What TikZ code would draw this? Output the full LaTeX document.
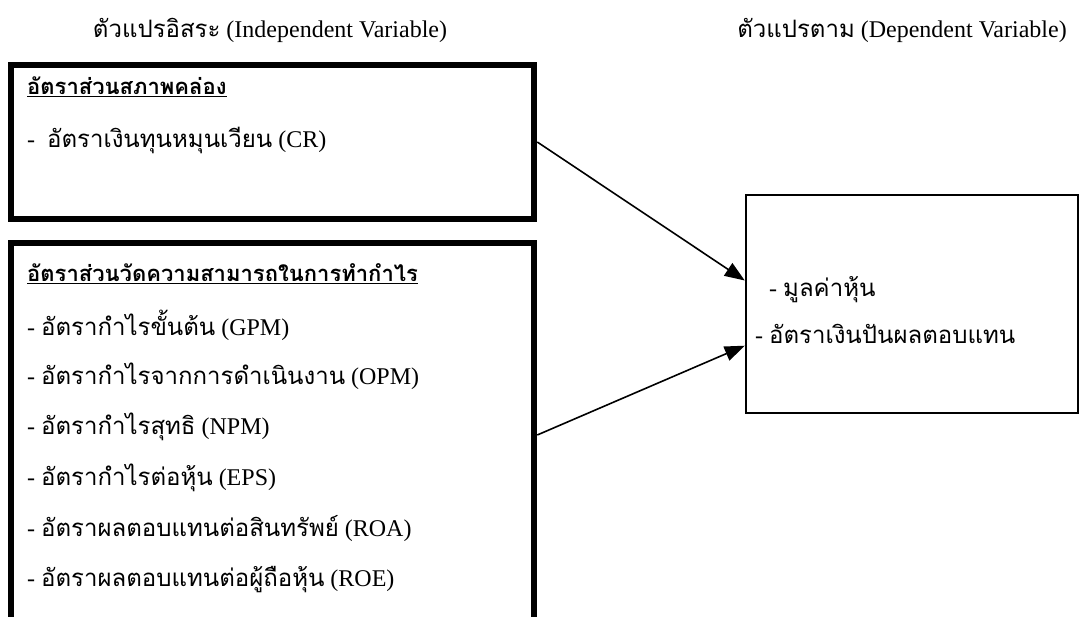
\documentclass[tikz,border=0pt]{standalone}
\usepackage{fontspec}
\setmainfont{Liberation Serif}
\newfontfamily\thaifont[Script=Thai]{Loma}
\usetikzlibrary{arrows.meta}

\begin{document}
\begin{tikzpicture}[x=1pt,y=-1pt]
	\tikzset{every node/.style={font=\fontsize{24}{28}\selectfont}}
	\tikzset{varbox/.style={draw,rectangle,line width=6.5pt,inner sep=0pt}}
	\tikzset{depbox/.style={draw,rectangle,line width=2.5pt,inner sep=0pt}}
	\tikzset{item/.style={anchor=west,inner sep=0pt}}
	\tikzset{itemhead/.style={item,font=\fontsize{22}{26}\selectfont\thaifont\bfseries}}
	\tikzset{link/.style={line width=1.6pt,-{Triangle[length=20pt,width=15pt]}}}
	\useasboundingbox (0,0) rectangle (1082,616);
	% headings
	\node (indep) at (270,30) {{\thaifont ตัวแปรอิสระ} (Independent Variable)};
	\node (deptitle) at (902,30) {{\thaifont ตัวแปรตาม} (Dependent Variable)};
	% boxes
	\node[varbox,minimum width=523pt,minimum height=154pt] (liq) at (272.5,142) {};
	\node[varbox,minimum width=523pt,minimum height=384pt] (prof) at (272.5,435) {};
	\node[depbox,minimum width=332pt,minimum height=218pt] (dep) at (912,304) {};
	% liquidity
	\node[itemhead] (liqhead) at (27,87) {\underline{อัตราส่วนสภาพคล่อง}};
	\node[item] (cr) at (27,140) {-\hspace{12pt}{\thaifont อัตราเงินทุนหมุนเวียน} (CR)};
	% profitability
	\node[itemhead] (profhead) at (27,274) {\underline{อัตราส่วนวัดความสามารถในการทำกำไร}};
	\node[item] (gpm) at (27,325) {- {\thaifont อัตรากำไรขั้นต้น} (GPM)};
	\node[item] (opm) at (27,376) {- {\thaifont อัตรากำไรจากการดำเนินงาน} (OPM)};
	\node[item] (npm) at (27,427) {- {\thaifont อัตรากำไรสุทธิ} (NPM)};
	\node[item] (eps) at (27,478) {- {\thaifont อัตรากำไรต่อหุ้น} (EPS)};
	\node[item] (roa) at (27,529) {- {\thaifont อัตราผลตอบแทนต่อสินทรัพย์} (ROA)};
	\node[item] (roe) at (27,580) {- {\thaifont อัตราผลตอบแทนต่อผู้ถือหุ้น} (ROE)};
	% dependent
	\node[item] (value) at (769,290) {- {\thaifont มูลค่าหุ้น}};
	\node[item] (yield) at (755,334) {- {\thaifont อัตราเงินปันผลตอบแทน}};
	% arrows
	\draw[link] (liq.east) -- (dep.172);
	\draw[link] (prof.east) -- (dep.194);
\end{tikzpicture}
\end{document}
